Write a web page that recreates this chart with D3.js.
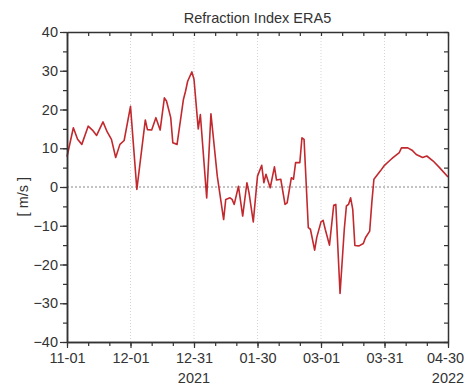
<!DOCTYPE html>
<html>
<head>
<meta charset="utf-8">
<script src="https://cdn.jsdelivr.net/npm/d3@7"></script>
<style>
  body { margin: 0; background: #fff; }
  svg { font-family: "Liberation Sans", Arial, sans-serif; }
</style>
</head>
<body>
<div id="chart"></div>
<script>
// days since 2021-11-01 and the refraction index values
const dayOffsets = [0, 3, 5, 7, 10, 12, 14, 17, 19, 21, 23, 25, 27, 30, 33, 37, 38, 40, 42, 44,
    46, 47, 49, 50, 52, 55, 56, 57, 59, 60, 62, 63, 66, 68, 71, 74, 75, 77, 78, 79,
    81, 83, 85, 86, 88, 90, 92, 93, 94, 96, 98, 99, 101, 103, 104, 106, 107, 108, 110, 111,
    112, 114, 115, 117, 118, 120, 121, 122, 124, 126, 127, 129, 131, 132, 133, 134, 135, 136, 138, 140,
    141, 143, 144, 145, 148, 150, 153, 154, 157, 158, 161, 163, 165, 168, 170, 173, 176, 180];
const values = [7.8, 15.3, 12.3, 11.0, 15.7, 14.7, 13.3, 16.8, 14.2, 12.3, 7.6, 11.0, 12.0, 20.8, -0.6, 17.3, 14.8, 14.7, 17.9, 14.7,
    23.0, 22.2, 17.9, 11.4, 11.0, 22.6, 24.7, 27.3, 29.7, 27.8, 15.0, 18.7, -2.8, 18.9, 2.8, -8.4, -3.2, -2.8, -3.2, -4.5,
    0.2, -7.5, 1.1, -1.5, -9.0, 2.8, 5.6, 1.1, 3.3, -0.2, 5.2, 1.8, 2.0, -4.5, -4.1, 2.4, 2.0, 6.3, 6.3, 12.7,
    12.3, -10.5, -10.9, -16.3, -13.0, -9.0, -8.6, -10.9, -15.0, -4.7, -4.5, -27.5, -10.9, -4.9, -4.5, -2.8, -5.8, -15.1, -15.2, -14.6,
    -13.1, -11.4, -4.1, 2.0, 4.1, 5.6, 7.1, 7.6, 8.9, 10.1, 10.1, 9.5, 8.4, 7.6, 8.0, 6.7, 5.0, 2.6];
const xTickDays = [0, 30, 60, 90, 120, 150, 180];
const yTicks = [-40, -30, -20, -10, 0, 10, 20, 30, 40];
const yearLabels = [{ day: 60, text: "2021" }, { day: 180, text: "2022" }];

const startDate = new Date(2021, 10, 1);
const toDate = d => d3.timeDay.offset(startDate, d);

const width = 465, height = 387;
const margin = { top: 32, right: 17, bottom: 45, left: 67 };
const innerW = width - margin.left - margin.right;
const innerH = height - margin.top - margin.bottom;
const fontSize = "14.5px";

const svg = d3.select("#chart").append("svg")
    .attr("width", width)
    .attr("height", height);

const g = svg.append("g")
    .attr("transform", `translate(${margin.left},${margin.top})`);

const x = d3.scaleTime()
    .domain([toDate(0), toDate(180)])
    .range([0, innerW]);
const y = d3.scaleLinear()
    .domain([-40, 40])
    .range([innerH, 0]);

const data = dayOffsets.map((d, i) => ({ date: toDate(d), value: values[i] }));

// vertical dotted grid at the major date ticks
g.append("g")
    .selectAll("line")
    .data(xTickDays.slice(1, -1))
    .join("line")
    .attr("x1", d => x(toDate(d)))
    .attr("x2", d => x(toDate(d)))
    .attr("y1", 0)
    .attr("y2", innerH)
    .attr("stroke", "#d4d4d4")
    .attr("stroke-width", 1)
    .attr("stroke-dasharray", "1,2");

// zero line
g.append("line")
    .attr("x1", 0)
    .attr("x2", innerW)
    .attr("y1", y(0))
    .attr("y2", y(0))
    .attr("stroke", "#888")
    .attr("stroke-width", 1)
    .attr("stroke-dasharray", "2,2");

// data line
g.append("path")
    .datum(data)
    .attr("fill", "none")
    .attr("stroke", "#c2292e")
    .attr("stroke-width", 1.6)
    .attr("stroke-linejoin", "round")
    .attr("d", d3.line().x(d => x(d.date)).y(d => y(d.value)));

const axisColor = "#333";
const minorX = d3.range(0, 181, 10).map(toDate);
const minorY = d3.range(-40, 41, 5);

function styleAxis(sel) {
    sel.selectAll(".domain").attr("stroke", axisColor).attr("stroke-width", 1.5);
    sel.selectAll(".tick line").attr("stroke", axisColor).attr("stroke-width", 1.2);
    sel.selectAll("text").attr("fill", "#333").style("font-size", fontSize);
}

// bottom: minor, then major with labels
g.append("g")
    .attr("transform", `translate(0,${innerH})`)
    .call(d3.axisBottom(x).tickValues(minorX).tickSize(4).tickFormat("").tickSizeOuter(0))
    .call(styleAxis);
const xAxisMajor = g.append("g")
    .attr("transform", `translate(0,${innerH})`)
    .call(d3.axisBottom(x).tickValues(xTickDays.map(toDate)).tickSize(6).tickPadding(5)
        .tickFormat(d3.timeFormat("%m-%d")).tickSizeOuter(0))
    .call(styleAxis);
// keep the last label inside the window
xAxisMajor.selectAll(".tick text")
    .filter((d, i, n) => i === n.length - 1)
    .attr("dx", -3);

// left
g.append("g")
    .call(d3.axisLeft(y).tickValues(minorY).tickSize(4).tickFormat("").tickSizeOuter(0))
    .call(styleAxis);
g.append("g")
    .call(d3.axisLeft(y).tickValues(yTicks).tickSize(7).tickPadding(2)
        .tickFormat(d3.format("d")).tickSizeOuter(0))
    .call(styleAxis);

// top and right, ticks inward
g.append("g")
    .call(d3.axisTop(x).tickValues(minorX).tickSize(-4).tickFormat("").tickSizeOuter(0))
    .call(styleAxis);
g.append("g")
    .attr("transform", `translate(${innerW},0)`)
    .call(d3.axisRight(y).tickValues(minorY).tickSize(-4).tickFormat("").tickSizeOuter(0))
    .call(styleAxis);

// year labels
g.append("g")
    .selectAll("text")
    .data(yearLabels)
    .join("text")
    .attr("x", d => x(toDate(d.day)))
    .attr("y", innerH + 41)
    .attr("text-anchor", "middle")
    .attr("fill", "#333")
    .style("font-size", fontSize)
    .text(d => d.text);

// title
svg.append("text")
    .attr("x", margin.left + innerW / 2)
    .attr("y", 23)
    .attr("text-anchor", "middle")
    .attr("fill", "#333")
    .style("font-size", fontSize)
    .text("Refraction Index ERA5");

// y label
svg.append("text")
    .attr("transform", `translate(28,${margin.top + y(-2.5)}) rotate(-90)`)
    .attr("text-anchor", "middle")
    .attr("fill", "#333")
    .style("font-size", fontSize)
    .text("[ m/s ]");
</script>
</body>
</html>
